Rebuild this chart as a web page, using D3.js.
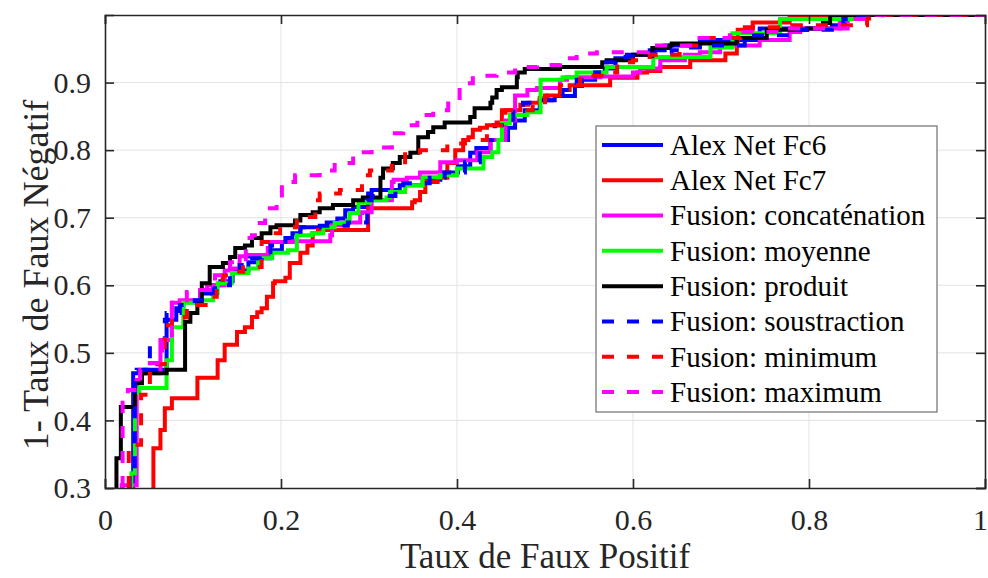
<!DOCTYPE html>
<html>
<head>
<meta charset="utf-8">
<script src="https://cdn.jsdelivr.net/npm/d3@7"></script>
<style>
  html, body { margin: 0; padding: 0; background: #fff; }
  svg text { font-family: "Liberation Serif", "Times New Roman", serif; }
</style>
</head>
<body>
<div id="chart"></div>
<script>
// tick values / labels
const xTicks = [0, 0.2, 0.4, 0.6, 0.8, 1];
const xTickLabels = ['0', '0.2', '0.4', '0.6', '0.8', '1'];
const yTicks = [0.3, 0.4, 0.5, 0.6, 0.7, 0.8, 0.9];
const yTickLabels = ['0.3', '0.4', '0.5', '0.6', '0.7', '0.8', '0.9'];

const seriesNames = [
  'Alex Net Fc6', 'Alex Net Fc7', 'Fusion: concaténation', 'Fusion: moyenne',
  'Fusion: produit', 'Fusion: soustraction', 'Fusion: minimum', 'Fusion: maximum'
];

// ROC staircases, [taux de faux positif, 1 - taux de faux négatif]
const fc6 = [[0.032,0.300],[0.045,0.470],[0.070,0.475],[0.081,0.549],[0.089,0.566],[0.108,0.575],[0.123,0.588],[0.131,0.600],[0.145,0.606],[0.163,0.622],[0.174,0.634],[0.188,0.640],[0.201,0.652],[0.213,0.664],[0.222,0.677],[0.252,0.686],[0.264,0.693],[0.273,0.699],[0.282,0.711],[0.299,0.716],[0.303,0.736],[0.335,0.741],[0.361,0.748],[0.381,0.756],[0.401,0.767],[0.415,0.776],[0.422,0.796],[0.438,0.803],[0.458,0.815],[0.466,0.833],[0.477,0.844],[0.494,0.859],[0.511,0.874],[0.534,0.880],[0.542,0.895],[0.557,0.904],[0.568,0.915],[0.580,0.921],[0.593,0.936],[0.619,0.941],[0.636,0.948],[0.676,0.955],[0.744,0.963],[0.826,0.980],[0.841,0.985],[0.855,0.994],[1,1]];
const fc7 = [[0.055,0.300],[0.063,0.359],[0.068,0.386],[0.076,0.418],[0.105,0.433],[0.128,0.463],[0.136,0.489],[0.150,0.512],[0.159,0.531],[0.167,0.538],[0.173,0.553],[0.178,0.560],[0.184,0.566],[0.191,0.583],[0.193,0.603],[0.205,0.606],[0.210,0.611],[0.222,0.633],[0.230,0.648],[0.236,0.659],[0.242,0.677],[0.299,0.682],[0.349,0.714],[0.352,0.723],[0.358,0.726],[0.364,0.738],[0.378,0.753],[0.389,0.759],[0.398,0.781],[0.407,0.800],[0.413,0.815],[0.418,0.819],[0.426,0.830],[0.434,0.833],[0.445,0.837],[0.451,0.841],[0.472,0.859],[0.481,0.867],[0.494,0.870],[0.503,0.877],[0.517,0.881],[0.528,0.889],[0.574,0.896],[0.605,0.907],[0.616,0.915],[0.631,0.917],[0.665,0.923],[0.705,0.933],[0.718,0.943],[0.719,0.958],[0.736,0.978],[0.778,0.989],[1,1]];
const concat = [[0.019,0.300],[0.036,0.304],[0.040,0.460],[0.063,0.470],[0.076,0.519],[0.085,0.574],[0.108,0.578],[0.116,0.593],[0.136,0.600],[0.144,0.622],[0.153,0.625],[0.161,0.643],[0.185,0.645],[0.188,0.655],[0.213,0.664],[0.256,0.665],[0.258,0.674],[0.273,0.689],[0.290,0.693],[0.292,0.707],[0.303,0.708],[0.326,0.726],[0.328,0.753],[0.343,0.756],[0.358,0.759],[0.381,0.767],[0.400,0.782],[0.423,0.785],[0.438,0.797],[0.455,0.815],[0.466,0.844],[0.480,0.881],[0.491,0.889],[0.517,0.892],[0.525,0.904],[0.563,0.908],[0.600,0.909],[0.608,0.915],[0.631,0.921],[0.659,0.933],[0.676,0.941],[0.699,0.945],[0.744,0.955],[0.778,0.963],[0.790,0.975],[0.835,0.980],[0.844,0.991],[1,1]];
const moyenne = [[0.030,0.300],[0.034,0.322],[0.039,0.441],[0.070,0.448],[0.076,0.489],[0.089,0.538],[0.108,0.574],[0.123,0.578],[0.128,0.588],[0.144,0.603],[0.163,0.618],[0.174,0.625],[0.176,0.634],[0.190,0.640],[0.208,0.648],[0.218,0.652],[0.235,0.674],[0.248,0.677],[0.261,0.686],[0.275,0.692],[0.278,0.696],[0.288,0.707],[0.301,0.722],[0.320,0.726],[0.324,0.730],[0.341,0.738],[0.361,0.748],[0.381,0.760],[0.400,0.763],[0.430,0.773],[0.440,0.790],[0.447,0.797],[0.451,0.815],[0.460,0.840],[0.480,0.852],[0.495,0.856],[0.520,0.904],[0.536,0.908],[0.570,0.915],[0.623,0.923],[0.688,0.938],[0.713,0.952],[0.767,0.973],[0.852,0.994],[1,1]];
const produit = [[0.013,0.300],[0.018,0.344],[0.034,0.420],[0.042,0.455],[0.070,0.470],[0.091,0.475],[0.097,0.546],[0.105,0.559],[0.110,0.575],[0.119,0.603],[0.134,0.627],[0.142,0.633],[0.148,0.642],[0.159,0.655],[0.167,0.659],[0.178,0.670],[0.188,0.677],[0.195,0.686],[0.216,0.689],[0.222,0.696],[0.236,0.704],[0.244,0.708],[0.259,0.714],[0.282,0.719],[0.293,0.726],[0.313,0.730],[0.316,0.759],[0.327,0.773],[0.335,0.781],[0.347,0.790],[0.356,0.796],[0.367,0.819],[0.373,0.827],[0.386,0.834],[0.415,0.841],[0.420,0.849],[0.438,0.862],[0.440,0.870],[0.445,0.878],[0.451,0.889],[0.468,0.893],[0.469,0.908],[0.477,0.915],[0.517,0.920],[0.565,0.923],[0.570,0.930],[0.600,0.933],[0.616,0.941],[0.622,0.943],[0.642,0.951],[0.644,0.955],[0.718,0.958],[0.752,0.966],[0.798,0.978],[0.816,0.980],[0.824,0.988],[1,1]];
const soustraction = [[0.028,0.300],[0.034,0.327],[0.036,0.470],[0.051,0.475],[0.068,0.512],[0.070,0.549],[0.085,0.559],[0.102,0.571],[0.119,0.578],[0.125,0.588],[0.142,0.600],[0.153,0.615],[0.165,0.630],[0.178,0.640],[0.188,0.649],[0.205,0.659],[0.222,0.670],[0.244,0.686],[0.276,0.688],[0.298,0.693],[0.303,0.726],[0.330,0.732],[0.339,0.748],[0.369,0.751],[0.386,0.759],[0.409,0.767],[0.426,0.782],[0.440,0.815],[0.443,0.830],[0.464,0.837],[0.475,0.867],[0.492,0.870],[0.511,0.874],[0.520,0.881],[0.528,0.889],[0.536,0.896],[0.557,0.904],[0.566,0.915],[0.580,0.930],[0.593,0.938],[0.622,0.939],[0.644,0.943],[0.659,0.948],[0.676,0.952],[0.727,0.955],[0.778,0.970],[0.826,0.978],[0.839,0.985],[0.852,0.994],[1,1]];
const minimum = [[0.027,0.300],[0.041,0.364],[0.051,0.438],[0.068,0.483],[0.076,0.541],[0.093,0.553],[0.119,0.571],[0.127,0.583],[0.134,0.608],[0.148,0.615],[0.157,0.620],[0.178,0.627],[0.194,0.664],[0.199,0.677],[0.218,0.686],[0.239,0.701],[0.242,0.714],[0.244,0.726],[0.267,0.736],[0.292,0.741],[0.301,0.763],[0.326,0.770],[0.341,0.782],[0.358,0.797],[0.389,0.800],[0.409,0.810],[0.434,0.815],[0.455,0.837],[0.486,0.859],[0.500,0.867],[0.517,0.881],[0.540,0.896],[0.570,0.910],[0.582,0.915],[0.600,0.930],[0.619,0.933],[0.653,0.941],[0.676,0.955],[0.722,0.966],[0.781,0.982],[0.866,0.985],[0.884,0.995],[1,1]];
const maximum = [[0.020,0.300],[0.026,0.426],[0.040,0.445],[0.051,0.475],[0.065,0.485],[0.076,0.519],[0.093,0.574],[0.108,0.590],[0.125,0.593],[0.142,0.615],[0.160,0.634],[0.167,0.670],[0.173,0.674],[0.182,0.692],[0.195,0.714],[0.201,0.733],[0.216,0.753],[0.244,0.763],[0.261,0.770],[0.282,0.781],[0.303,0.797],[0.326,0.804],[0.339,0.825],[0.355,0.837],[0.373,0.852],[0.390,0.859],[0.403,0.874],[0.418,0.899],[0.445,0.910],[0.466,0.915],[0.491,0.923],[0.517,0.926],[0.536,0.936],[0.559,0.943],[0.617,0.945],[0.673,0.955],[0.710,0.966],[0.769,0.975],[0.844,0.980],[0.873,0.994],[1,1]];

const seriesData = [fc6, fc7, concat, moyenne, produit, soustraction, minimum, maximum];
const seriesColors = ['#0000ff', '#ff0000', '#ff00ff', '#00ff00', '#000000', '#0000ff', '#ff0000', '#ff00ff'];
const seriesDashed = [false, false, false, false, false, true, true, true];

const width = 988;
const height = 578;
const margin = { top: 15, right: 3, bottom: 90, left: 105 };
const innerWidth = width - margin.left - margin.right;
const innerHeight = height - margin.top - margin.bottom;
const fontFamily = '"Liberation Serif", "Times New Roman", serif';
const axisColor = '#262626';
const dash = '12,13';

const svg = d3.select('#chart')
  .append('svg')
  .attr('width', width)
  .attr('height', height)
  .attr('viewBox', `0 0 ${width} ${height}`);

svg.append('rect').attr('width', width).attr('height', height).attr('fill', '#fff');

const x = d3.scaleLinear().domain([0, 1]).range([0, innerWidth]);
const y = d3.scaleLinear().domain([0.3, 1]).range([innerHeight, 0]);

const g = svg.append('g').attr('transform', `translate(${margin.left},${margin.top})`);

svg.append('defs').append('clipPath').attr('id', 'plot-clip')
  .append('rect').attr('width', innerWidth).attr('height', innerHeight);

// grid
g.append('g')
  .selectAll('line')
  .data(xTicks.slice(1, -1))
  .join('line')
  .attr('x1', (d) => x(d)).attr('x2', (d) => x(d))
  .attr('y1', 0).attr('y2', innerHeight)
  .attr('stroke', '#e3e3e3').attr('stroke-width', 1);

g.append('g')
  .selectAll('line')
  .data(yTicks.slice(1))
  .join('line')
  .attr('x1', 0).attr('x2', innerWidth)
  .attr('y1', (d) => y(d)).attr('y2', (d) => y(d))
  .attr('stroke', '#e3e3e3').attr('stroke-width', 1);

// curves
const line = d3.line()
  .x((d) => x(d[0]))
  .y((d) => y(d[1]))
  .curve(d3.curveStepBefore);

const curves = g.append('g').attr('clip-path', 'url(#plot-clip)');
seriesData.forEach((data, i) => {
  curves.append('path')
    .datum(data)
    .attr('d', line)
    .attr('fill', 'none')
    .attr('stroke', seriesColors[i])
    .attr('stroke-width', 4)
    .attr('stroke-dasharray', seriesDashed[i] ? dash : null);
});

// axes (ticks inside, box all round)
const tickLen = 9;
const xAxis = g.append('g')
  .attr('transform', `translate(0,${innerHeight})`)
  .call(d3.axisBottom(x).tickValues(xTicks).tickSize(-tickLen).tickPadding(21)
    .tickFormat((d, i) => xTickLabels[i]));
const yAxis = g.append('g')
  .call(d3.axisLeft(y).tickValues(yTicks).tickSize(-tickLen).tickPadding(14)
    .tickFormat((d, i) => yTickLabels[i]));
const xTop = g.append('g')
  .call(d3.axisTop(x).tickValues(xTicks).tickSize(-tickLen).tickFormat(''));
const yRight = g.append('g')
  .attr('transform', `translate(${innerWidth},0)`)
  .call(d3.axisRight(y).tickValues(yTicks).tickSize(-tickLen).tickFormat(''));

[xAxis, yAxis, xTop, yRight].forEach((a) => {
  a.attr('font-family', fontFamily);
  a.select('.domain').attr('stroke', axisColor).attr('stroke-width', 1.6);
  a.selectAll('.tick line').attr('stroke', axisColor).attr('stroke-width', 1.6);
  a.selectAll('.tick text')
    .attr('fill', axisColor)
    .attr('font-family', fontFamily)
    .attr('font-size', 30);
});
// the last label sits on the figure edge
xAxis.selectAll('.tick text').filter((d) => d === 1).attr('dx', -5);

// axis titles
svg.append('text')
  .attr('x', margin.left + innerWidth / 2)
  .attr('y', 568)
  .attr('text-anchor', 'middle')
  .attr('fill', axisColor)
  .attr('font-family', fontFamily)
  .attr('font-size', 35)
  .text('Taux de Faux Positif');

svg.append('text')
  .attr('transform', 'translate(48,275) rotate(-90)')
  .attr('text-anchor', 'middle')
  .attr('fill', axisColor)
  .attr('font-family', fontFamily)
  .attr('font-size', 36)
  .text('1- Taux de Faux Négatif');

// legend
const legend = svg.append('g').attr('transform', 'translate(596,126)');
legend.append('rect')
  .attr('width', 341).attr('height', 286)
  .attr('fill', '#fff')
  .attr('stroke', '#6e6e6e').attr('stroke-width', 1.2);

const rowY = d3.scalePoint().domain(d3.range(seriesNames.length)).range([19, 266]);
const items = legend.selectAll('g.item')
  .data(seriesNames)
  .join('g')
  .attr('class', 'item')
  .attr('transform', (d, i) => `translate(0,${rowY(i)})`);

items.append('line')
  .attr('x1', 6).attr('x2', 67)
  .attr('stroke', (d, i) => seriesColors[i])
  .attr('stroke-width', 4)
  .attr('stroke-dasharray', (d, i) => (seriesDashed[i] ? dash : null));

items.append('text')
  .attr('x', 74)
  .attr('dy', '0.34em')
  .attr('fill', '#000')
  .attr('font-family', fontFamily)
  .attr('font-size', 29)
  .text((d) => d);
</script>
</body>
</html>
